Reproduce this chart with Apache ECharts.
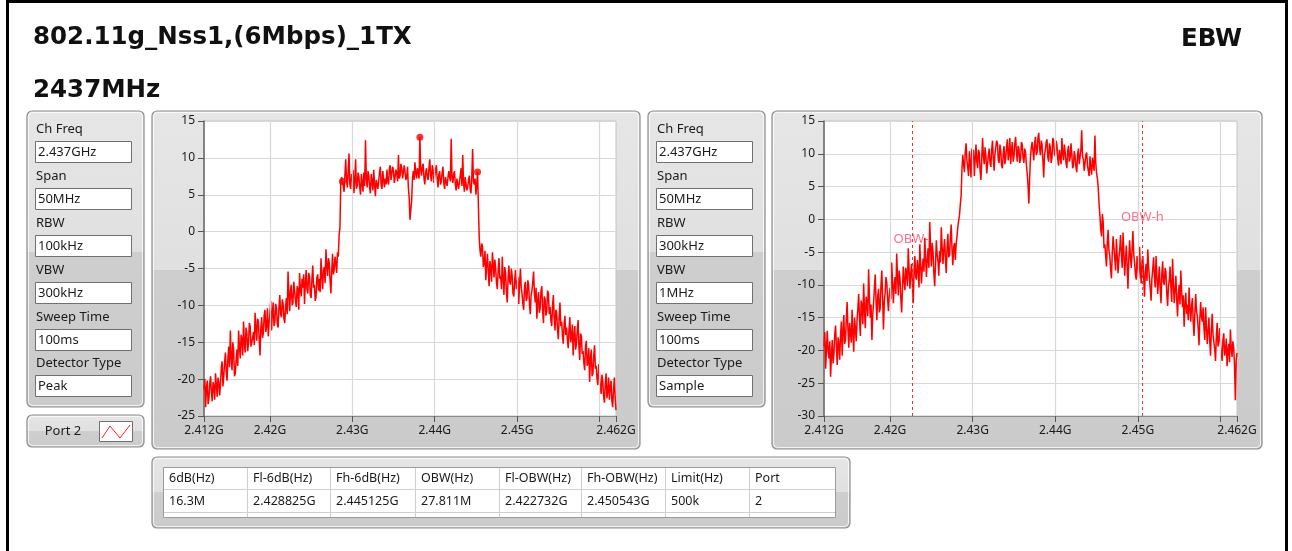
<!DOCTYPE html>
<html><head><meta charset="utf-8">
<script src="https://cdn.jsdelivr.net/npm/echarts@6/dist/echarts.min.js"></script>
<style>html,body{margin:0;padding:0;background:#fff;}#c{width:1292px;height:551px;}</style>
</head><body><div id="c"></div>
<script>
// ---- data ----
const freqStart = 2412, freqStep = 0.1; // MHz sampling of the traces
const peakTrace = [
 -21.4,-20.0,-23.8,-21.2,-20.2,-23.4,-22.6,-20.6,-19.6,-21.8,-23.0,-20.4,-21.0,-22.8,-19.2,-20.8,-22.4,-19.8,-20.4,-22.2,
 -20.8,-18.4,-17.6,-21.0,-19.6,-17.8,-16.4,-19.0,-20.2,-17.2,-15.6,-18.4,-13.4,-17.0,-18.8,-15.0,-16.0,-19.6,-19.2,-17.4,
 -16.0,-18.2,-13.4,-15.6,-17.2,-14.0,-14.6,-16.8,-12.2,-15.0,-16.4,-13.0,-13.8,-16.2,-15.2,-12.4,-12.8,-15.6,-15.8,-14.4,
 -13.6,-15.4,-11.0,-13.2,-14.8,-11.8,-12.2,-14.6,-16.8,-13.0,-11.6,-14.4,-13.8,-11.4,-10.6,-13.6,-12.8,-10.4,-14.2,-12.4,
 -11.0,-9.4,-13.4,-11.0,-9.6,-12.8,-12.2,-9.8,-10.4,-12.6,-13.0,-10.2,-8.6,-11.2,-11.6,-9.2,-9.8,-11.8,-12.4,-10.2,
 -9.0,-11.2,-5.4,-8.4,-10.8,-8.0,-7.2,-10.0,-9.6,-6.8,-6.6,-9.4,-10.2,-7.4,-7.8,-10.6,-5.6,-7.8,-8.8,-6.4,
 -7.6,-5.8,-9.8,-7.0,-5.2,-7.8,-8.4,-5.6,-6.0,-8.6,-9.0,-6.4,-4.6,-7.6,-7.2,-9.4,-8.8,-6.2,-5.8,-8.0,
 -6.4,-8.2,-3.6,-5.8,-7.8,-5.2,-4.8,-7.0,-2.4,-4.6,-6.0,-3.6,-4.2,-6.6,-8.4,-5.4,-3.0,-5.8,-5.2,-3.4,
 -4.2,-5.6,-2.8,-3.4,-0.4,0.6,6.6,7.4,6.8,6.2,5.4,7.6,9.8,7.0,6.0,8.2,10.6,6.4,5.8,7.8,
 6.8,8.4,5.2,7.0,9.8,5.8,6.2,8.0,7.4,6.0,5.0,7.8,6.6,5.4,8.0,6.2,12.4,7.2,6.0,8.2,
 7.6,6.0,5.2,7.8,6.8,5.6,8.4,6.4,4.8,7.0,7.2,5.8,6.0,8.0,8.8,6.2,5.8,8.2,7.0,6.0,
 7.2,6.4,8.4,6.8,6.4,8.6,9.0,7.0,7.0,8.8,8.2,6.6,6.6,8.4,7.8,6.8,10.4,7.2,7.6,9.2,
 8.6,7.2,7.0,9.0,9.2,7.0,7.4,8.8,6.0,4.6,1.6,3.0,4.2,7.2,8.2,7.0,9.4,8.0,7.2,8.6,
 8.0,7.2,12.8,8.4,7.6,8.8,9.2,7.2,6.4,8.0,8.6,7.4,7.0,8.6,9.8,7.6,6.8,9.0,8.4,6.6,
 7.4,8.4,9.0,7.2,6.0,7.8,8.2,6.4,6.8,8.0,8.8,6.6,5.8,7.4,7.6,6.2,6.4,8.2,8.0,6.8,
 12.6,7.4,6.6,7.8,8.2,6.4,5.6,7.2,7.4,5.8,6.0,7.6,8.6,6.2,10.4,6.6,5.4,7.4,7.2,5.6,
 6.0,7.0,7.6,5.8,5.2,7.4,11.2,6.8,6.4,7.2,5.0,6.4,8.1,3.6,-0.8,-2.6,-3.4,-1.6,-2.0,-4.8,
 -4.2,-2.6,-6.6,-4.6,-3.0,-5.4,-7.4,-4.0,-4.8,-6.8,-2.8,-4.4,-6.2,-3.8,-5.0,-7.0,-7.8,-5.2,-3.6,-6.4,
 -6.0,-7.8,-3.4,-6.2,-8.6,-4.8,-5.6,-8.2,-9.6,-6.4,-4.6,-6.8,-7.2,-5.0,-6.0,-8.4,-8.8,-6.6,-5.2,-7.8,
 -7.6,-6.2,-9.8,-7.0,-5.0,-7.6,-8.4,-9.8,-10.6,-7.4,-6.8,-9.4,-9.0,-6.6,-7.2,-9.8,-11.2,-8.6,-8.0,-6.8,
 -5.4,-8.4,-9.6,-7.6,-11.8,-9.4,-8.2,-11.0,-10.4,-8.0,-7.4,-10.8,-12.4,-8.8,-9.2,-11.4,-10.8,-8.0,-8.4,-11.2,
 -10.2,-12.0,-12.8,-10.0,-8.6,-11.8,-13.4,-10.6,-11.0,-13.2,-14.6,-11.6,-9.6,-12.8,-12.2,-14.0,-15.2,-12.6,-11.4,-14.0,
 -13.0,-14.6,-15.8,-13.2,-11.6,-15.0,-14.4,-12.6,-16.8,-14.0,-12.8,-16.0,-15.2,-13.4,-12.0,-15.6,-17.4,-13.8,-14.2,-16.6,
 -16.2,-17.8,-18.8,-15.6,-14.8,-18.2,-17.6,-15.8,-20.4,-17.2,-16.0,-19.6,-19.2,-16.8,-15.4,-18.6,-18.2,-20.0,-20.8,-18.0,
 -19.6,-21.2,-22.0,-19.4,-20.4,-22.4,-23.2,-20.6,-19.2,-22.6,-21.6,-19.8,-22.8,-21.0,-20.2,-23.0,-23.8,-21.4,-19.8,-22.6,-24.2
];
const sampleTrace = [
 -19.4,-17.2,-22.8,-19.8,-17.0,-20.2,-21.2,-18.6,-24.0,-20.8,-18.4,-22.0,-20.6,-17.6,-16.2,-19.4,-22.2,-18.0,-19.0,-21.4,
 -17.8,-15.6,-20.8,-17.2,-14.6,-19.0,-18.4,-15.2,-12.6,-16.8,-19.6,-15.8,-16.0,-18.8,-13.8,-17.4,-20.2,-15.0,-16.6,-18.6,
 -15.4,-13.6,-11.4,-15.2,-17.8,-12.4,-13.2,-16.0,-9.8,-13.8,-16.6,-11.8,-12.6,-14.8,-7.6,-12.0,-15.0,-13.0,-18.4,-14.6,
 -12.8,-10.6,-8.4,-12.4,-15.4,-11.8,-10.6,-14.2,-13.6,-10.0,-7.8,-12.0,-16.8,-12.6,-11.2,-8.8,-9.6,-12.2,-14.0,-11.6,
 -10.4,-12.2,-6.6,-9.6,-12.8,-10.0,-8.8,-11.4,-5.2,-8.6,-11.6,-7.8,-9.0,-12.0,-14.2,-10.6,-7.2,-9.4,-10.8,-7.4,
 -8.2,-10.2,-4.4,-7.6,-10.6,-8.4,-6.8,-9.6,-12.8,-8.0,-5.6,-8.8,-9.2,-6.2,-7.4,-10.4,-3.8,-7.0,-9.8,-7.4,
 -6.0,-8.0,-2.8,-5.8,-8.8,-6.2,-4.4,-7.4,-0.4,-4.2,-7.2,-3.6,-5.0,-8.2,-10.2,-6.8,-3.2,-5.4,-6.4,-8.6,
 -4.8,-6.6,-1.2,-4.2,-6.8,-4.6,-3.0,-6.0,-8.2,-4.4,-2.2,-5.8,-5.4,-2.8,-0.8,-4.6,-7.0,-4.2,-3.6,-6.2,
 -3.8,-2.6,-1.2,-0.2,0.6,2.2,3.6,7.6,9.8,8.4,7.2,10.2,11.6,9.0,8.0,6.6,10.4,8.6,6.4,10.8,
 9.0,10.6,6.6,9.2,11.4,8.8,7.8,10.6,10.2,7.4,6.0,9.4,12.4,9.6,8.4,11.0,9.6,7.0,7.2,9.8,
 10.8,8.6,8.0,10.6,12.0,9.2,7.4,10.0,9.8,12.0,11.6,9.0,8.6,11.4,10.4,8.2,7.8,10.0,11.2,8.4,
 9.4,11.0,12.2,9.0,10.0,12.4,8.4,10.6,11.8,8.8,9.6,11.6,12.6,10.2,8.8,11.2,10.8,8.6,9.2,11.8,
 11.4,9.4,8.6,10.8,10.2,8.4,7.0,5.2,2.4,6.4,9.6,11.0,11.8,10.4,9.0,11.6,12.6,9.8,10.2,12.4,
 13.2,10.8,9.8,12.0,11.4,9.0,6.4,9.8,10.6,11.8,12.2,9.4,8.8,11.6,11.0,8.6,9.4,12.4,12.0,10.0,
 9.6,12.0,11.4,9.2,8.2,10.6,10.8,8.4,12.4,10.2,9.0,11.4,10.2,8.6,7.8,10.4,11.2,8.8,9.4,11.6,
 10.0,7.8,8.2,10.4,9.6,8.0,7.2,9.8,10.8,8.4,8.6,10.6,13.6,9.6,9.2,7.4,7.6,9.8,10.2,8.2,
 8.0,6.6,9.6,7.8,6.8,9.4,9.2,7.4,12.8,8.6,7.0,6.2,4.8,2.4,0.6,-1.4,-2.6,0.8,-0.4,-4.4,
 -3.8,-5.6,-7.2,-3.4,-1.6,-4.8,-5.6,-7.6,-9.0,-5.0,-2.6,-4.4,-6.0,-7.8,-3.0,-5.6,-8.2,-6.0,-4.6,-2.4,
 -5.2,-7.4,-2.0,-5.0,-8.6,-6.2,-4.0,-7.0,-10.6,-6.0,-3.2,-5.8,-7.4,-4.6,-1.8,-5.4,-6.6,-8.4,-9.2,-5.6,
 -7.0,-9.0,-4.2,-7.6,-9.8,-6.4,-5.6,-8.8,-11.8,-8.0,-6.8,-9.4,-4.6,-7.2,-9.0,-10.6,-12.4,-9.0,-7.6,-5.8,
 -8.6,-10.4,-5.6,-8.6,-11.4,-9.2,-7.2,-10.6,-12.8,-8.4,-6.4,-9.6,-10.0,-7.4,-8.0,-11.4,-13.2,-10.2,-9.4,-7.2,
 -10.4,-12.6,-6.0,-9.8,-12.8,-10.6,-8.6,-12.2,-14.8,-11.4,-10.0,-13.0,-7.8,-11.0,-13.4,-11.6,-16.4,-12.8,-11.2,-14.4,
 -13.0,-15.4,-10.4,-13.6,-15.6,-13.2,-12.0,-15.8,-17.8,-14.2,-11.4,-14.0,-14.8,-16.6,-19.2,-15.2,-12.6,-14.8,-15.6,-13.4,
 -16.6,-18.4,-13.4,-16.4,-19.0,-17.0,-15.0,-18.6,-20.8,-16.8,-14.4,-17.6,-17.8,-19.8,-21.6,-17.8,-15.8,-19.4,-18.6,-16.6,
 -18.8,-20.6,-21.6,-18.4,-17.4,-20.8,-20.2,-18.2,-22.4,-20.0,-19.0,-21.8,-16.8,-19.6,-21.0,-18.6,-19.6,-22.2,-27.6,-21.4,-20.4
];
const peakMarkers = [[2428.8, 6.8], [2438.2, 12.8], [2445.2, 8.1]];
const obwFreqs = [2422.732, 2450.543];
const obwLabels = [{name: 'OBW-l', value: [2422.732, -3.0]}, {name: 'OBW-h', value: [2450.543, 0.3]}];
const xTickValues = [2412, 2420, 2430, 2440, 2450, 2460, 2462];
const xLabelValues = [2412, 2420, 2430, 2440, 2450, 2462];
const xGridValues = [2420, 2430, 2440, 2450, 2460];
const titleText = '802.11g_Nss1,(6Mbps)_1TX';
const freqText = '2437MHz';
const modeText = 'EBW';
const settingLabels = ['Ch Freq', 'Span', 'RBW', 'VBW', 'Sweep Time', 'Detector Type'];
const peakSettings = ['2.437GHz', '50MHz', '100kHz', '300kHz', '100ms', 'Peak'];
const sampleSettings = ['2.437GHz', '50MHz', '300kHz', '1MHz', '100ms', 'Sample'];
const legendName = 'Port 2';
const tableHeaders = ['6dB(Hz)', 'Fl-6dB(Hz)', 'Fh-6dB(Hz)', 'OBW(Hz)', 'Fl-OBW(Hz)', 'Fh-OBW(Hz)', 'Limit(Hz)', 'Port'];
const tableValues = ['16.3M', '2.428825G', '2.445125G', '27.811M', '2.422732G', '2.450543G', '500k', '2'];

// ---- build ----
const toXY = arr => arr.map((v, i) => [Math.round((freqStart + i * freqStep) * 10) / 10, v]);
const SMALL = '13px "Noto Sans"';
const TXT = '#1a1a1a';
const els = [];

function panel(x, y, w, h, split) {
  els.push({type: 'rect', silent: true, z: -30,
    shape: {x: x, y: y, width: w, height: h, r: 5},
    style: {fill: {type: 'linear', x: 0, y: 0, x2: 0, y2: 1, colorStops: [
      {offset: 0, color: '#e6e6e6'}, {offset: split, color: '#e0e0e0'},
      {offset: split, color: '#cecece'}, {offset: 1, color: '#cbcbcb'}]},
      stroke: '#8e8e8e', lineWidth: 1.2}});
  els.push({type: 'rect', silent: true, z: -29,
    shape: {x: x + 1.5, y: y + 1.5, width: w - 3, height: h - 3, r: 4},
    style: {fill: null, stroke: 'rgba(255,255,255,0.75)', lineWidth: 1}});
}
function text(t, x, y, font, align, fill) {
  els.push({type: 'text', silent: true, z: -10,
    style: {text: t, x: x, y: y, font: font, fill: fill || TXT, textAlign: align || 'left', textVerticalAlign: 'middle'}});
}
function box(x, y, w, h) {
  els.push({type: 'rect', silent: true, z: -12,
    shape: {x: x, y: y, width: w, height: h},
    style: {fill: '#ffffff', stroke: '#707070', lineWidth: 1}});
}
function line(x1, y1, x2, y2, color, z) {
  els.push({type: 'line', silent: true, z: z || -11,
    shape: {x1: x1, y1: y1, x2: x2, y2: y2}, style: {stroke: color, lineWidth: 1}});
}

// outer frame
els.push({type: 'rect', silent: true, z: -40, shape: {x: 7.5, y: 1.5, width: 1279, height: 570},
  style: {fill: '#ffffff', stroke: '#000000', lineWidth: 3}});
text(titleText, 33, 37.5, 'bold 24.5px "DejaVu Sans"', 'left', '#111');
text(freqText, 33, 91, 'bold 24.5px "DejaVu Sans"', 'left', '#111');
text(modeText, 1181, 39.5, 'bold 24.5px "DejaVu Sans"', 'left', '#111');

// settings panels
function settingsPanel(px, vals) {
  panel(px, 111, 117, 296, 0.476);
  const lblY = [129, 176, 223, 270, 317, 363];
  const boxY = [141, 188, 235, 282, 329, 375];
  settingLabels.forEach((l, i) => {
    text(l, px + 9, lblY[i], SMALL);
    box(px + 8.5, boxY[i] + 0.5, 96, 21);
    text(vals[i], px + 11, boxY[i] + 11.5, SMALL);
  });
}
settingsPanel(27, peakSettings);
settingsPanel(648, sampleSettings);

// legend panel
panel(27, 415, 117, 32, 0.5);
text(legendName, 63, 431, SMALL, 'center');
box(99.5, 421.5, 33, 20);
els.push({type: 'polyline', silent: true, z: -10, shape: {points: [[102, 438], [110, 426], [120, 438], [130, 425]]},
  style: {stroke: '#ff2020', lineWidth: 1, fill: null}});

// chart panels and plot backgrounds
panel(152, 111, 488, 338, 0.47);
panel(772, 111, 490, 338, 0.47);
els.push({type: 'rect', silent: true, z: -15, shape: {x: 204, y: 121, width: 412, height: 295},
  style: {fill: '#ffffff', stroke: '#c4c4c4', lineWidth: 1}});
els.push({type: 'rect', silent: true, z: -15, shape: {x: 824, y: 121, width: 413, height: 295},
  style: {fill: '#ffffff', stroke: '#c4c4c4', lineWidth: 1}});

// table
panel(152, 457, 698, 71, 0.5);
els.push({type: 'rect', silent: true, z: -15, shape: {x: 163.5, y: 467.5, width: 672, height: 50},
  style: {fill: '#ffffff', stroke: '#9a9a9a', lineWidth: 1}});
const colX = [163, 247, 330, 415, 499, 581, 665, 749, 835];
line(164, 489.5, 835, 489.5, '#cfcfcf');
line(164, 512.5, 835, 512.5, '#cfcfcf');
colX.slice(1, 8).forEach(cx => line(cx + 0.5, 468, cx + 0.5, 517, '#cfcfcf'));
tableHeaders.forEach((h, i) => text(h, colX[i] + 6, 478.5, '12.5px "Noto Sans"'));
tableValues.forEach((v, i) => text(v, colX[i] + 6, 501, '12.5px "Noto Sans"'));

function xAxisCfg(g) {
  return {gridIndex: g, type: 'value', min: 2412, max: 2462,
    axisLine: {show: true, onZero: false, lineStyle: {color: '#8a8a8a', width: 1}},
    axisTick: {show: true, customValues: xTickValues, length: 6, lineStyle: {color: '#555'}},
    axisLabel: {customValues: xLabelValues, formatter: v => (v / 1000) + 'G', color: TXT,
      fontSize: 12, fontFamily: 'Noto Sans', margin: 9},
    splitLine: {show: false}};
}
function yAxisCfg(g, min) {
  return {gridIndex: g, type: 'value', min: min, max: 15, interval: 5,
    axisLine: {show: true, onZero: false, lineStyle: {color: '#666', width: 1.5}},
    axisTick: {show: true, length: 6, lineStyle: {color: '#555'}},
    axisLabel: {color: TXT, fontSize: 12, fontFamily: 'Noto Sans', margin: 9},
    splitLine: {show: true, lineStyle: {color: '#d8d8d8', width: 1.2}}};
}
function gridLines(g) {
  return {type: 'line', xAxisIndex: g, yAxisIndex: g, data: [], z: 1, silent: true,
    markLine: {silent: true, symbol: ['none', 'none'], label: {show: false}, animation: false,
      lineStyle: {color: '#d8d8d8', type: 'solid', width: 1.2},
      data: xGridValues.map(v => ({xAxis: v}))}};
}

const option = {
  animation: false,
  backgroundColor: '#ffffff',
  graphic: {elements: els},
  grid: [
    {left: 204, top: 121, width: 412, height: 295, show: false},
    {left: 824, top: 121, width: 413, height: 295, show: false}
  ],
  xAxis: [xAxisCfg(0), xAxisCfg(1)],
  yAxis: [yAxisCfg(0, -25), yAxisCfg(1, -30)],
  series: [
    gridLines(0),
    {type: 'line', xAxisIndex: 0, yAxisIndex: 0, data: toXY(peakTrace), showSymbol: false, symbol: 'none',
      lineStyle: {color: '#ff0000', width: 1.5}, z: 3},
    {type: 'scatter', xAxisIndex: 0, yAxisIndex: 0, data: peakMarkers, symbolSize: 7,
      itemStyle: {color: '#ff0000'}, z: 4},
    gridLines(1),
    {type: 'line', xAxisIndex: 1, yAxisIndex: 1, data: [], z: 2, silent: true,
      markLine: {silent: true, symbol: ['none', 'none'], label: {show: false}, animation: false,
        lineStyle: {color: '#f03030', type: [3, 3], width: 1},
        data: obwFreqs.map(v => ({xAxis: v}))}},
    {type: 'scatter', xAxisIndex: 1, yAxisIndex: 1, data: obwLabels, symbolSize: 1, z: 2,
      itemStyle: {color: 'rgba(0,0,0,0)'},
      label: {show: true, position: 'inside', formatter: '{b}', color: '#ff4a6a', fontSize: 13, fontFamily: 'Noto Sans'}},
    {type: 'line', xAxisIndex: 1, yAxisIndex: 1, data: toXY(sampleTrace), showSymbol: false, symbol: 'none',
      lineStyle: {color: '#ff0000', width: 1.5}, z: 3}
  ]
};
const chart = echarts.init(document.getElementById('c'));
chart.setOption(option);
</script>
</body></html>
